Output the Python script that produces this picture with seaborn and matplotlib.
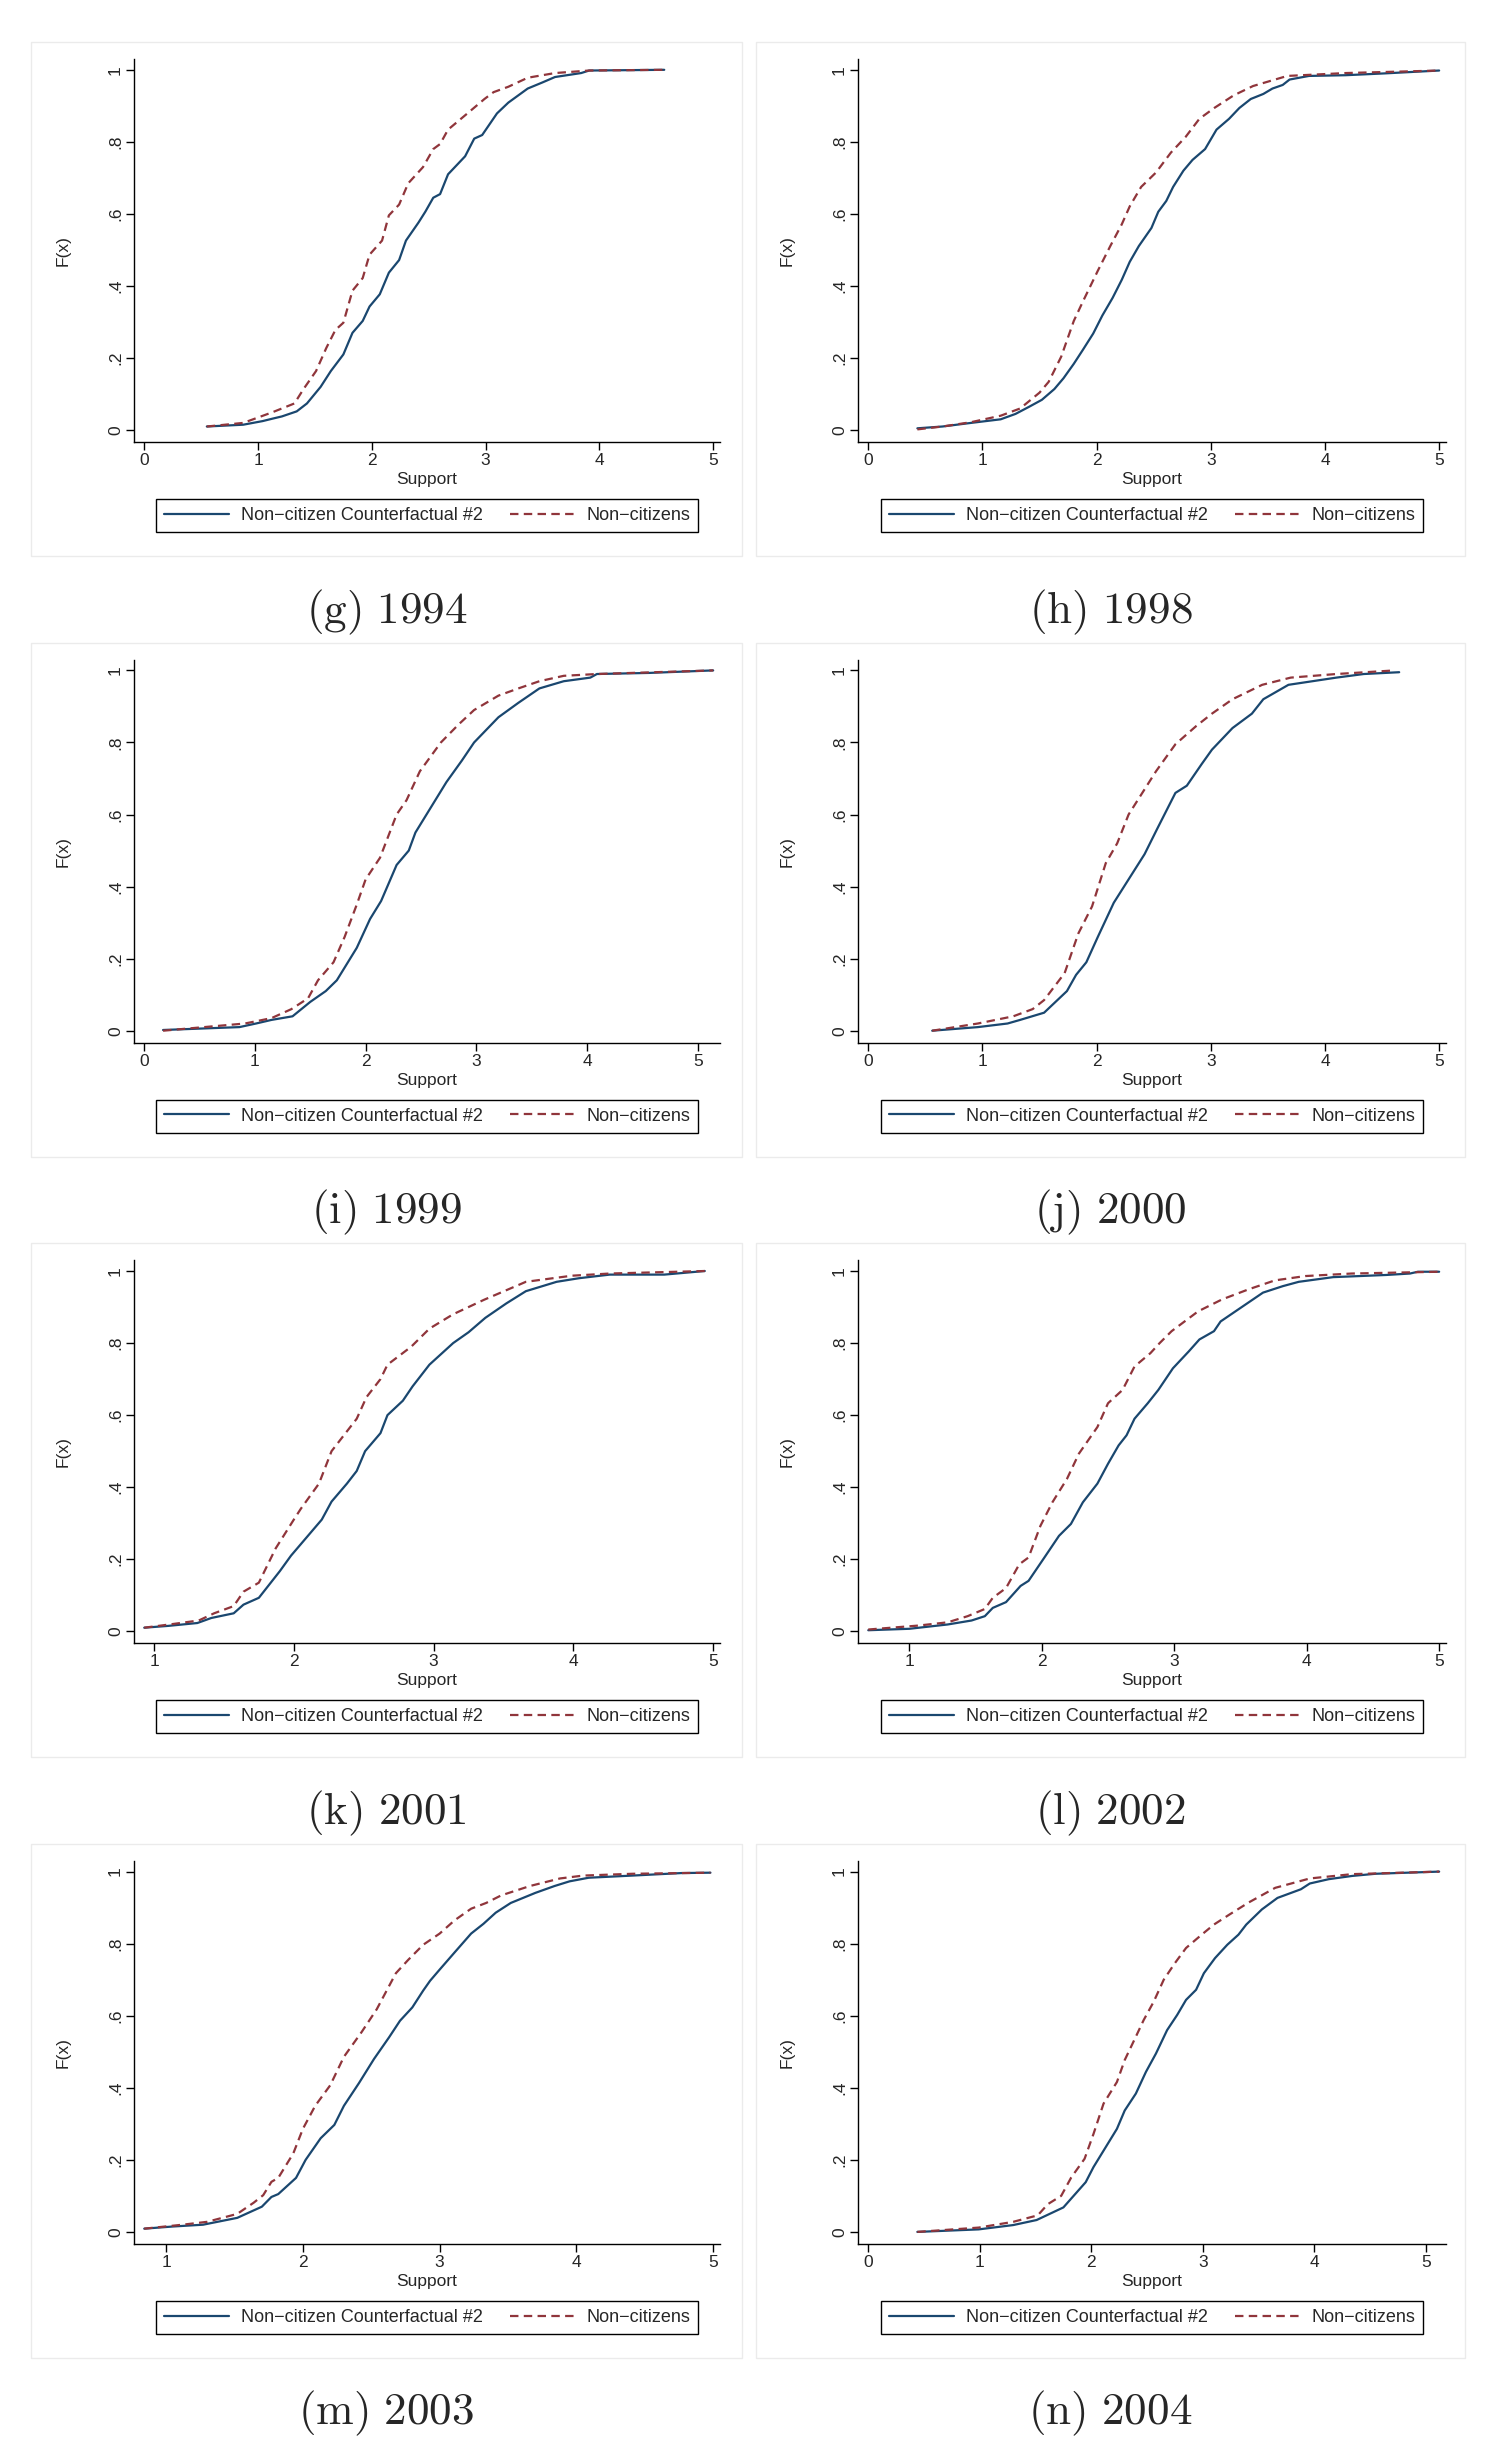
import seaborn as sns
import matplotlib.pyplot as plt
import pandas as pd
import numpy as np
from matplotlib.patches import Rectangle

# ---- data read off the figure: empirical CDFs, (support, F(x)) ----
# (g) 1994
cf_1994_x = [0.55, 0.87, 1.04, 1.13, 1.21, 1.34, 1.43, 1.55, 1.64, 1.75, 1.83, 1.92, 1.98, 2.07, 2.15, 2.24, 2.30,
             2.41, 2.47, 2.54, 2.60, 2.67, 2.82, 2.90, 2.97, 3.10, 3.20, 3.37, 3.50, 3.61, 3.84, 3.91, 4.57]
cf_1994_y = [0.010, 0.015, 0.025, 0.032, 0.038, 0.052, 0.074, 0.120, 0.164, 0.210, 0.270, 0.303, 0.343, 0.377,
             0.437, 0.472, 0.526, 0.576, 0.606, 0.645, 0.655, 0.710, 0.760, 0.809, 0.819, 0.879, 0.909, 0.948,
             0.965, 0.980, 0.991, 0.998, 1.000]
nc_1994_x = [0.55, 0.87, 1.00, 1.13, 1.32, 1.40, 1.51, 1.60, 1.68, 1.75, 1.83, 1.92, 1.98, 2.09, 2.15, 2.24, 2.32,
             2.45, 2.54, 2.60, 2.67, 2.84, 2.99, 3.07, 3.20, 3.37, 3.61, 3.91, 4.57]
nc_1994_y = [0.010, 0.020, 0.035, 0.050, 0.074, 0.114, 0.164, 0.228, 0.278, 0.298, 0.387, 0.422, 0.487, 0.526,
             0.596, 0.626, 0.685, 0.730, 0.780, 0.794, 0.834, 0.879, 0.919, 0.938, 0.953, 0.978, 0.991, 0.998, 1.000]

# (h) 1998
cf_1998_x = [0.43, 0.65, 0.90, 1.16, 1.29, 1.41, 1.52, 1.63, 1.71, 1.80, 1.88, 1.97, 2.05, 2.14, 2.22, 2.29, 2.37,
             2.48, 2.54, 2.61, 2.67, 2.76, 2.84, 2.95, 3.05, 3.16, 3.25, 3.35, 3.46, 3.54, 3.63, 3.69, 3.86, 4.18,
             4.52, 5.00]
cf_1998_y = [0.005, 0.010, 0.020, 0.030, 0.045, 0.065, 0.084, 0.114, 0.144, 0.184, 0.223, 0.268, 0.318, 0.367,
             0.417, 0.467, 0.511, 0.561, 0.606, 0.636, 0.675, 0.720, 0.750, 0.780, 0.834, 0.864, 0.894, 0.919,
             0.933, 0.948, 0.958, 0.973, 0.983, 0.985, 0.990, 0.998]
nc_1998_x = [0.43, 0.65, 0.90, 1.16, 1.33, 1.50, 1.58, 1.69, 1.80, 1.88, 2.01, 2.12, 2.22, 2.29, 2.39, 2.52, 2.65,
             2.78, 2.90, 3.03, 3.20, 3.37, 3.67, 4.18, 5.00]
nc_1998_y = [0.002, 0.010, 0.022, 0.040, 0.060, 0.104, 0.134, 0.204, 0.303, 0.357, 0.442, 0.511, 0.571, 0.621,
             0.675, 0.715, 0.770, 0.814, 0.864, 0.894, 0.929, 0.955, 0.983, 0.991, 0.998]

# (i) 1999
cf_1999_x = [0.17, 0.86, 1.01, 1.15, 1.34, 1.50, 1.64, 1.74, 1.92, 2.04, 2.14, 2.28, 2.39, 2.45, 2.61, 2.73, 2.87,
             2.98, 3.20, 3.38, 3.57, 3.79, 4.03, 4.09, 4.56, 5.14]
cf_1999_y = [0.002, 0.010, 0.020, 0.030, 0.040, 0.080, 0.110, 0.140, 0.230, 0.310, 0.360, 0.460, 0.500, 0.550,
             0.630, 0.690, 0.750, 0.800, 0.870, 0.910, 0.950, 0.970, 0.980, 0.990, 0.993, 1.000]
nc_1999_x = [0.17, 0.91, 1.15, 1.33, 1.48, 1.57, 1.71, 1.81, 1.92, 2.00, 2.13, 2.28, 2.37, 2.49, 2.68, 2.84, 2.98,
             3.20, 3.38, 3.57, 3.79, 4.09, 5.14]
nc_1999_y = [0.000, 0.020, 0.035, 0.060, 0.090, 0.140, 0.190, 0.260, 0.350, 0.420, 0.480, 0.600, 0.640, 0.720,
             0.800, 0.850, 0.890, 0.930, 0.950, 0.970, 0.985, 0.990, 1.000]

# (j) 2000
cf_2000_x = [0.56, 0.96, 1.22, 1.33, 1.54, 1.74, 1.82, 1.91, 2.01, 2.15, 2.28, 2.42, 2.53, 2.69, 2.79, 2.92, 3.01,
             3.19, 3.36, 3.46, 3.68, 3.89, 4.10, 4.34, 4.65]
cf_2000_y = [0.000, 0.010, 0.020, 0.030, 0.050, 0.110, 0.155, 0.190, 0.260, 0.355, 0.420, 0.490, 0.560, 0.660,
             0.680, 0.740, 0.780, 0.840, 0.880, 0.920, 0.960, 0.970, 0.980, 0.990, 0.995]
nc_2000_x = [0.56, 0.96, 1.27, 1.44, 1.54, 1.72, 1.84, 1.96, 2.08, 2.18, 2.28, 2.52, 2.69, 2.87, 3.01, 3.19, 3.45,
             3.70, 4.10, 4.61]
nc_2000_y = [0.000, 0.020, 0.040, 0.060, 0.085, 0.160, 0.270, 0.345, 0.465, 0.520, 0.600, 0.720, 0.795, 0.845,
             0.880, 0.920, 0.960, 0.980, 0.990, 1.000]

# (k) 2001
cf_2001_x = [0.93, 1.10, 1.31, 1.41, 1.57, 1.64, 1.75, 1.90, 1.98, 2.09, 2.20, 2.27, 2.38, 2.45, 2.51, 2.62, 2.67,
             2.78, 2.85, 2.97, 3.14, 3.25, 3.37, 3.52, 3.66, 3.88, 4.04, 4.26, 4.65, 4.94]
cf_2001_y = [0.010, 0.015, 0.023, 0.037, 0.050, 0.074, 0.093, 0.167, 0.210, 0.260, 0.310, 0.360, 0.410, 0.445,
             0.500, 0.550, 0.600, 0.640, 0.680, 0.740, 0.800, 0.830, 0.870, 0.910, 0.944, 0.970, 0.980, 0.990,
             0.990, 1.000]
nc_2001_x = [0.93, 1.13, 1.32, 1.43, 1.57, 1.64, 1.75, 1.87, 2.00, 2.05, 2.18, 2.27, 2.45, 2.52, 2.62, 2.67, 2.84,
             2.97, 3.14, 3.36, 3.66, 3.99, 4.26, 4.94]
nc_2001_y = [0.010, 0.020, 0.030, 0.050, 0.070, 0.110, 0.135, 0.230, 0.310, 0.340, 0.410, 0.500, 0.590, 0.650,
             0.700, 0.740, 0.790, 0.840, 0.880, 0.920, 0.970, 0.987, 0.993, 1.000]

# (l) 2002
cf_2002_x = [0.69, 1.00, 1.29, 1.47, 1.57, 1.63, 1.73, 1.84, 1.90, 2.02, 2.13, 2.22, 2.31, 2.42, 2.50, 2.58, 2.64,
             2.70, 2.80, 2.88, 2.99, 3.11, 3.19, 3.30, 3.35, 3.51, 3.67, 3.82, 3.94, 4.20, 4.60, 4.78, 4.84, 5.00]
cf_2002_y = [0.003, 0.007, 0.019, 0.030, 0.042, 0.065, 0.081, 0.126, 0.140, 0.205, 0.265, 0.298, 0.358, 0.410,
             0.465, 0.516, 0.544, 0.590, 0.633, 0.670, 0.730, 0.777, 0.810, 0.833, 0.860, 0.900, 0.940, 0.958,
             0.970, 0.983, 0.989, 0.993, 0.998, 0.998]
nc_2002_x = [0.69, 1.07, 1.29, 1.44, 1.57, 1.63, 1.73, 1.83, 1.90, 1.99, 2.08, 2.19, 2.28, 2.42, 2.50, 2.61, 2.70,
             2.82, 2.89, 2.98, 3.18, 3.36, 3.56, 3.76, 3.99, 4.34, 5.00]
nc_2002_y = [0.005, 0.016, 0.025, 0.042, 0.062, 0.093, 0.120, 0.186, 0.205, 0.293, 0.358, 0.423, 0.493, 0.567,
             0.633, 0.670, 0.735, 0.772, 0.800, 0.833, 0.888, 0.921, 0.949, 0.974, 0.986, 0.993, 0.998]

# (m) 2003
cf_2003_x = [0.84, 1.05, 1.27, 1.52, 1.70, 1.77, 1.82, 1.95, 2.02, 2.13, 2.23, 2.30, 2.41, 2.52, 2.63, 2.71, 2.80,
             2.88, 2.93, 3.00, 3.11, 3.23, 3.32, 3.41, 3.52, 3.70, 3.84, 3.95, 4.09, 4.41, 4.77, 4.98]
cf_2003_y = [0.009, 0.015, 0.020, 0.039, 0.070, 0.097, 0.105, 0.150, 0.200, 0.260, 0.297, 0.350, 0.413, 0.480,
             0.540, 0.586, 0.623, 0.670, 0.697, 0.728, 0.776, 0.828, 0.855, 0.886, 0.913, 0.941, 0.960, 0.973,
             0.983, 0.989, 0.996, 0.997]
nc_2003_x = [0.84, 1.12, 1.30, 1.52, 1.64, 1.71, 1.77, 1.82, 1.93, 2.00, 2.09, 2.20, 2.30, 2.43, 2.54, 2.68, 2.77,
             2.88, 3.00, 3.11, 3.23, 3.34, 3.45, 3.66, 3.88, 4.05, 4.41, 4.98]
nc_2003_y = [0.009, 0.020, 0.028, 0.050, 0.081, 0.102, 0.139, 0.150, 0.218, 0.286, 0.350, 0.407, 0.486, 0.555,
             0.618, 0.718, 0.755, 0.797, 0.828, 0.865, 0.897, 0.913, 0.934, 0.960, 0.981, 0.989, 0.994, 0.997]

# (n) 2004
cf_2004_x = [0.44, 0.99, 1.30, 1.51, 1.75, 1.95, 2.02, 2.23, 2.30, 2.40, 2.49, 2.58, 2.68, 2.77, 2.85, 2.94, 3.01,
             3.11, 3.22, 3.32, 3.39, 3.53, 3.67, 3.88, 3.96, 4.13, 4.34, 4.55, 5.12]
cf_2004_y = [0.000, 0.007, 0.019, 0.033, 0.068, 0.138, 0.180, 0.286, 0.337, 0.384, 0.444, 0.495, 0.560, 0.602,
             0.644, 0.672, 0.718, 0.760, 0.797, 0.825, 0.853, 0.895, 0.927, 0.951, 0.967, 0.979, 0.988, 0.994,
             1.000]
nc_2004_x = [0.44, 0.99, 1.30, 1.52, 1.61, 1.73, 1.82, 1.94, 2.02, 2.11, 2.23, 2.30, 2.40, 2.47, 2.56, 2.65, 2.75,
             2.85, 2.99, 3.10, 3.24, 3.41, 3.65, 3.96, 4.34, 5.12]
nc_2004_y = [0.000, 0.012, 0.028, 0.046, 0.077, 0.100, 0.151, 0.203, 0.272, 0.356, 0.416, 0.477, 0.542, 0.588,
             0.639, 0.700, 0.746, 0.788, 0.825, 0.853, 0.881, 0.914, 0.955, 0.981, 0.993, 1.000]

captions = ['(g) 1994', '(h) 1998', '(i) 1999', '(j) 2000', '(k) 2001', '(l) 2002', '(m) 2003', '(n) 2004']
xticks_from0 = [0, 1, 2, 3, 4, 5]
xticks_from1 = [1, 2, 3, 4, 5]
yticks = [0, 0.2, 0.4, 0.6, 0.8, 1]
ytick_labels = ['0', '.2', '.4', '.6', '.8', '1']

panels = [
    (captions[0], xticks_from0, cf_1994_x, cf_1994_y, nc_1994_x, nc_1994_y),
    (captions[1], xticks_from0, cf_1998_x, cf_1998_y, nc_1998_x, nc_1998_y),
    (captions[2], xticks_from0, cf_1999_x, cf_1999_y, nc_1999_x, nc_1999_y),
    (captions[3], xticks_from0, cf_2000_x, cf_2000_y, nc_2000_x, nc_2000_y),
    (captions[4], xticks_from1, cf_2001_x, cf_2001_y, nc_2001_x, nc_2001_y),
    (captions[5], xticks_from1, cf_2002_x, cf_2002_y, nc_2002_x, nc_2002_y),
    (captions[6], xticks_from1, cf_2003_x, cf_2003_y, nc_2003_x, nc_2003_y),
    (captions[7], xticks_from0, cf_2004_x, cf_2004_y, nc_2004_x, nc_2004_y),
]

NAVY = '#1a476f'
MAROON = '#90353b'

sns.set_style('ticks')
plt.rcParams['font.family'] = ['Liberation Sans', 'DejaVu Sans']
plt.rcParams['mathtext.fontset'] = 'cm'
plt.rcParams['axes.edgecolor'] = 'black'

W, H = 1494, 2444
fig = plt.figure(figsize=(W / 100, H / 100), dpi=100)


def fx(px):
    return px / W


def fy(py):
    return 1 - py / H


ax_left = [134, 858]
ax_right = [720, 1446]
box_left = [31, 756]
box_right = [742, 1465]
pitch = 600.6

for i, (cap, xt, cfx, cfy, ncx, ncy) in enumerate(panels):
    r, c = divmod(i, 2)
    top = 59 + pitch * r
    bot = 442 + pitch * r

    # faint subfigure frame
    fig.patches.append(Rectangle((fx(box_left[c]), fy(556 + pitch * r)),
                                 (box_right[c] - box_left[c]) / W, (556 - 42) / H,
                                 transform=fig.transFigure, fill=False,
                                 edgecolor='#ebebeb', lw=1.0))

    ax = fig.add_axes([fx(ax_left[c]), fy(bot), (ax_right[c] - ax_left[c]) / W, (bot - top) / H])
    df_cf = pd.DataFrame({'Support': cfx, 'F': cfy})
    df_nc = pd.DataFrame({'Support': ncx, 'F': ncy})
    sns.lineplot(data=df_cf, x='Support', y='F', ax=ax, color=NAVY, lw=1.6,
                 estimator=None, sort=False, label='Non\u2212citizen Counterfactual #2')
    sns.lineplot(data=df_nc, x='Support', y='F', ax=ax, color=MAROON, lw=1.6,
                 estimator=None, sort=False, label='Non\u2212citizens')
    ax.get_lines()[1].set_linestyle((0, (3.8, 2.4)))

    lo = min(xt[0], min(cfx), min(ncx))
    hi = max(xt[-1], max(cfx), max(ncx))
    rng = hi - lo
    ax.set_xlim(lo - 0.018 * rng, hi + 0.012 * rng)
    ax.set_ylim(-0.033, 1.03)
    ax.set_xticks(xt)
    ax.set_xticklabels([str(t) for t in xt])
    ax.set_yticks(yticks)
    ax.set_yticklabels(ytick_labels, rotation=90, va='center')
    ax.tick_params(direction='out', length=6, width=1, labelsize=12.5, pad=2, color='black')
    sns.despine(ax=ax)
    for s in ['left', 'bottom']:
        ax.spines[s].set_linewidth(1.0)

    ax.set_xlabel('Support', fontsize=12.5)
    ax.set_ylabel('F(x)', fontsize=12.5)
    ax.xaxis.set_label_coords(0.5, (442 - 472) / 383)
    ax.yaxis.set_label_coords((71 - 134) / 586, 0.5)

    handles, labels = ax.get_legend_handles_labels()
    ax.get_legend().remove()
    leg = ax.legend(handles, labels, loc='upper center',
                    bbox_to_anchor=(fx((ax_left[c] + ax_right[c]) / 2), fy(499 + pitch * r)),
                    bbox_transform=fig.transFigure, ncol=2, frameon=True, fancybox=False,
                    edgecolor='black', framealpha=1, fontsize=13, handlelength=3.6,
                    handletextpad=0.65, columnspacing=1.5, borderpad=0.45, borderaxespad=0)
    leg.get_frame().set_linewidth(1.0)

    cx = (box_left[c] + box_right[c]) / 2
    fig.text(fx(cx), fy(623 + pitch * r), r'$\mathrm{' + cap.replace(' ', r'\ ') + '}$',
             ha='center', va='baseline', fontsize=32.5)

fig.savefig('out.png', dpi=100)
